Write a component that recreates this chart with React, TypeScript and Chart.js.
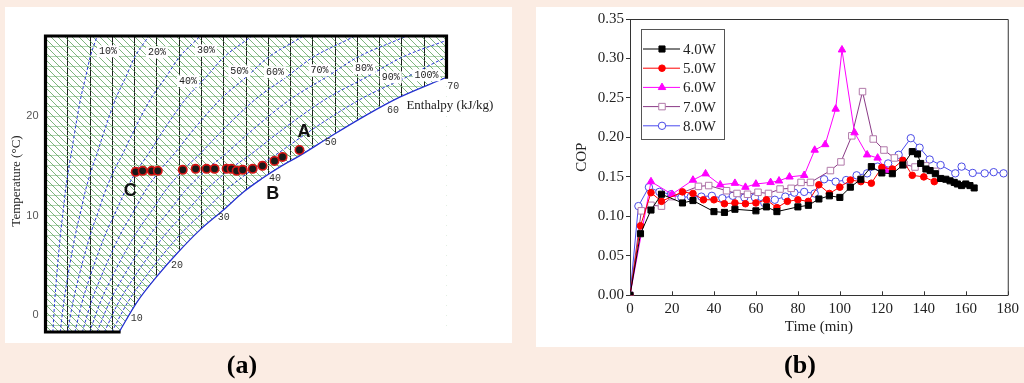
import React, { useEffect, useRef } from "react";
import { Chart, registerables } from "chart.js";
import { drawPoint } from "chart.js/helpers";

Chart.register(...registerables);

// ---------------- Panel (a): psychrometric chart ----------------
// saturation (100 % RH) curve: humidity ratio vs temperature
const satTemp = [-1.7, 1.3, 3.9, 6.2, 8.5, 10.6, 12.4, 13.7, 15.0, 16.0, 18.1, 20.1, 21.9, 23.9, 25.9, 27.6, 28.6];
const satHum = [3.3, 4.1, 5.0, 5.9, 6.9, 8.0, 8.9, 9.7, 10.6, 11.4, 12.9, 14.4, 15.9, 18.0, 20.0, 22.5, 24.0];
const rhLevels = [10, 20, 30, 40, 50, 60, 70, 80, 90];
// measured air states C -> B -> A
const processHum = [4.05, 4.36, 4.77, 5.04, 6.16, 6.74, 7.23, 7.59, 8.13, 8.35, 8.58, 8.85, 9.3, 9.74, 10.28, 10.64, 11.4];
const processTemp = [14.4, 14.5, 14.5, 14.5, 14.6, 14.7, 14.7, 14.7, 14.7, 14.7, 14.5, 14.6, 14.7, 15.0, 15.5, 15.9, 16.6];
const tempTicks = [0, 10, 20];
// text annotations
const rhLabels = ["10%", "20%", "30%", "40%", "50%", "60%", "70%", "80%", "90%", "100%"];
const rhLabelHum = [2.8, 5.0, 7.2, 6.4, 8.7, 10.3, 12.3, 14.3, 15.5, 17.1];
const rhLabelTemp = [26.5, 26.4, 26.6, 23.5, 24.5, 24.4, 24.6, 24.8, 23.9, 24.1];
const enthalpyLabels = ["10", "20", "30", "40", "50", "60", "70"];
const enthalpyLabelHum = [4.1, 5.9, 8.0, 10.3, 12.8, 15.6, 18.3];
const enthalpyLabelTemp = [-0.3, 5.0, 9.8, 13.7, 17.4, 20.6, 23.0];
const letterLabels = ["A", "B", "C"];
const letterHum = [11.6, 10.2, 3.8];
const letterTemp = [18.4, 12.2, 12.5];

// ---------------- Panel (b): COP vs time ----------------
const seriesNames = ["4.0W", "5.0W", "6.0W", "7.0W", "8.0W"];
const time40 = [0, 5, 10, 15, 25, 30, 40, 45, 50, 60, 65, 70, 80, 85, 90, 95, 100, 105, 110, 115, 120, 125, 130, 134.5, 137, 138.5, 141, 143, 145.5, 148, 150.5, 152.5, 154.5, 156, 158, 160, 162, 164];
const cop40 = [0, 0.078, 0.108, 0.128, 0.117, 0.12, 0.106, 0.105, 0.109, 0.107, 0.112, 0.106, 0.112, 0.114, 0.122, 0.126, 0.124, 0.137, 0.147, 0.163, 0.155, 0.154, 0.165, 0.182, 0.179, 0.167, 0.16, 0.158, 0.154, 0.148, 0.147, 0.145, 0.143, 0.141, 0.139, 0.141, 0.139, 0.136];
const time50 = [0, 5, 10, 15, 25, 30, 35, 40, 45, 50, 55, 60, 65, 70, 75, 80, 85, 90, 95, 100, 105, 110, 115, 120, 125, 130, 134.5, 140, 145];
const cop50 = [0, 0.088, 0.13, 0.119, 0.131, 0.129, 0.121, 0.121, 0.116, 0.117, 0.116, 0.117, 0.121, 0.111, 0.119, 0.121, 0.119, 0.14, 0.129, 0.137, 0.146, 0.144, 0.142, 0.162, 0.16, 0.171, 0.152, 0.15, 0.144];
const time60 = [0, 10, 20, 30, 36, 43, 50, 55, 60, 67, 71, 76, 83, 88, 93, 98, 101, 107, 113, 118, 122];
const cop60 = [0, 0.144, 0.128, 0.146, 0.154, 0.14, 0.142, 0.137, 0.141, 0.143, 0.145, 0.15, 0.152, 0.184, 0.191, 0.236, 0.311, 0.206, 0.178, 0.174, 0.158];
const time70 = [0, 5.4, 10, 15, 20, 32.6, 37.5, 46, 51, 56, 61, 66, 71.5, 76.8, 81.5, 86, 95.5, 100.5, 105.7, 110.8, 115.9, 121, 126, 130.6, 135.8, 140.9, 145.6];
const cop70 = [0, 0.107, 0.114, 0.113, 0.125, 0.138, 0.139, 0.1325, 0.129, 0.128, 0.1305, 0.129, 0.1346, 0.1355, 0.143, 0.143, 0.158, 0.169, 0.202, 0.258, 0.198, 0.184, 0.174, 0.166, 0.1625, 0.164, 0.157];
const time80 = [0, 4, 9, 14, 19.5, 24.5, 29, 34, 39, 44, 49, 54.5, 59.5, 64, 69, 74, 78.3, 83, 88, 92.5, 98, 103, 108, 113, 118, 123, 128, 133.8, 138, 142.8, 148, 155, 158, 163.3, 169, 173.3, 178];
const cop80 = [0, 0.113, 0.137, 0.131, 0.128, 0.124, 0.125, 0.125, 0.126, 0.123, 0.126, 0.124, 0.124, 0.117, 0.121, 0.125, 0.13, 0.131, 0.129, 0.147, 0.144, 0.146, 0.152, 0.1545, 0.163, 0.167, 0.178, 0.199, 0.187, 0.172, 0.165, 0.1545, 0.163, 0.155, 0.1545, 0.156, 0.1545];
const seriesTimes = [time40, time50, time60, time70, time80];
const seriesCops = [cop40, cop50, cop60, cop70, cop80];

// styles
const lineColors = ["#000000", "#ff0000", "#ff00ff", "#8a3a86", "#4b4bef"];
const markerBorder = ["#000000", "#ff0000", "#ff00ff", "#b27aaa", "#4a4ae6"];
const markerFill = ["#000000", "#ff0000", "#ff00ff", "#ffffff", "#ffffff"];
const markerStyle = ["rect", "circle", "triangle", "rect", "circle"];
const markerRadius = [4.3, 3.3, 4.3, 4.6, 3.7];

const SERIF = '"Liberation Serif", "Times New Roman", serif';
const SANS = '"Liberation Sans", Arial, sans-serif';
const MONO = '"Liberation Mono", "DejaVu Sans Mono", monospace';

function interpTempAt(w: number): number {
  for (let i = 1; i < satHum.length; i++) {
    if (satHum[i] >= w) {
      const f = (w - satHum[i - 1]) / (satHum[i] - satHum[i - 1]);
      return satTemp[i - 1] + f * (satTemp[i] - satTemp[i - 1]);
    }
  }
  return satTemp[satTemp.length - 1];
}

const psychroPlugin = {
  id: "psychro",
  beforeDatasetsDraw(chart: any) {
    const { ctx, chartArea: a } = chart;
    const s = 7;
    const tile = document.createElement("canvas");
    tile.width = s;
    tile.height = s;
    const t = tile.getContext("2d")!;
    t.strokeStyle = "rgba(70,150,70,0.7)";
    t.lineWidth = 1;
    t.beginPath();
    t.moveTo(0, 0);
    t.lineTo(s, s);
    t.moveTo(-1, s - 1);
    t.lineTo(1, s + 1);
    t.moveTo(s - 1, -1);
    t.lineTo(s + 1, 1);
    t.stroke();
    const pat = ctx.createPattern(tile, "repeat");
    ctx.save();
    ctx.fillStyle = pat;
    ctx.fillRect(a.left, a.top, a.width - 1, a.height);
    ctx.restore();
  },
  afterDatasetsDraw(chart: any) {
    const { ctx, chartArea: a, scales } = chart;
    const xs = scales.x;
    const ys = scales.y;
    ctx.save();
    // thick frame
    ctx.strokeStyle = "#000";
    ctx.lineWidth = 3.2;
    ctx.lineCap = "square";
    const yRight = ys.getPixelForValue(interpTempAt(xs.max));
    const xBottom = xs.getPixelForValue(satHum[0]);
    ctx.beginPath();
    ctx.moveTo(xBottom, a.bottom);
    ctx.lineTo(a.left, a.bottom);
    ctx.lineTo(a.left, a.top);
    ctx.lineTo(a.right, a.top);
    ctx.lineTo(a.right, yRight);
    ctx.stroke();

    // RH labels
    ctx.font = "10px " + MONO;
    ctx.textAlign = "center";
    ctx.textBaseline = "middle";
    rhLabels.forEach((txt, i) => {
      const x = xs.getPixelForValue(rhLabelHum[i]);
      const y = ys.getPixelForValue(rhLabelTemp[i]);
      const w = ctx.measureText(txt).width;
      ctx.fillStyle = "#ffffff";
      ctx.fillRect(x - w / 2 - 2, y - 6, w + 4, 12);
      ctx.fillStyle = "#222";
      ctx.fillText(txt, x, y);
    });
    // enthalpy values
    enthalpyLabels.forEach((txt, i) => {
      ctx.fillStyle = "#333";
      ctx.fillText(txt, xs.getPixelForValue(enthalpyLabelHum[i]), ys.getPixelForValue(enthalpyLabelTemp[i]));
    });
    ctx.font = "13px " + SERIF;
    ctx.textAlign = "left";
    ctx.fillStyle = "#222";
    ctx.fillText("Enthalpy (kJ/kg)", xs.getPixelForValue(16.2), ys.getPixelForValue(21.1));
    // state letters
    ctx.font = "bold 18px " + SANS;
    ctx.textAlign = "center";
    ctx.fillStyle = "#111";
    letterLabels.forEach((txt, i) => {
      ctx.fillText(txt, xs.getPixelForValue(letterHum[i]), ys.getPixelForValue(letterTemp[i]));
    });
    // y title
    ctx.translate(a.left - 28.5, 181);
    ctx.rotate(-Math.PI / 2);
    ctx.font = "13px " + SERIF;
    ctx.fillStyle = "#222";
    ctx.fillText("Temperature (\u00B0C)", 0, 0);
    ctx.restore();
  },
};

function PanelA() {
  const ref = useRef<HTMLCanvasElement>(null);
  useEffect(() => {
    const canvas = ref.current!;
    const satData = satHum.map((w, i) => ({ x: w, y: satTemp[i] }));
    const rhSets = rhLevels.map((rh) => ({
      label: rh + "%",
      data: satHum.map((w, i) => ({ x: (w * rh) / 100, y: satTemp[i] })),
      showLine: true,
      borderColor: "#2b3ad8",
      borderWidth: 1,
      borderDash: [3, 2],
      pointRadius: 0,
      fill: false,
      cubicInterpolationMode: "monotone",
    }));
    const chart = new Chart(canvas, {
      type: "scatter",
      data: {
        datasets: [
          {
            label: "points",
            data: processHum.map((w, i) => ({ x: w, y: processTemp[i] })),
            pointRadius: 4.2,
            pointBackgroundColor: "#1a1a1a",
            pointBorderColor: "#d41414",
            pointBorderWidth: 1.6,
            showLine: false,
          } as any,
          ...rhSets,
          {
            label: "100%",
            data: satData,
            showLine: true,
            borderColor: "#2430d0",
            borderWidth: 1.3,
            pointRadius: 0,
            fill: "start",
            backgroundColor: "#ffffff",
            cubicInterpolationMode: "monotone",
          },
        ],
      },
      options: {
        animation: false,
        responsive: false,
        maintainAspectRatio: false,
        layout: { padding: { left: 0, right: 65.5, top: 36, bottom: 51 } },
        plugins: { legend: { display: false }, tooltip: { enabled: false } },
        scales: {
          x: {
            type: "linear",
            min: 0,
            max: 18,
            ticks: { display: false, stepSize: 1 },
            grid: {
              color: (c: any) => (c.tick && (c.tick.value === 0 || c.tick.value === 18) ? "rgba(0,0,0,0)" : "#1e1e1e"),
              lineWidth: 1,
              drawTicks: false,
            },
            border: { display: false },
            afterFit: (s: any) => {
              s.height = 0;
            },
          },
          y: {
            type: "linear",
            min: -1.68,
            max: 28.04,
            afterFit: (s: any) => {
              s.width = 45.5;
            },
            ticks: {
              stepSize: 1,
              includeBounds: false,
              autoSkip: false,
              padding: 7,
              color: "#555",
              font: { family: SANS, size: 11 },
              callback: (v: any) => (tempTicks.includes(Number(v)) ? String(v) : ""),
            },
            grid: { color: "#afd4af", lineWidth: 1, drawTicks: false },
            border: { display: false },
          },
        },
      } as any,
      plugins: [psychroPlugin],
    });
    return () => chart.destroy();
  }, []);
  return <canvas ref={ref} width={512} height={383} style={{ position: "absolute", left: 0, top: 0, width: 512, height: 383 }} />;
}

const copPlugin = {
  id: "copDecor",
  afterDatasetsDraw(chart: any) {
    const { ctx, chartArea: a, scales } = chart;
    ctx.save();
    ctx.strokeStyle = "#333";
    ctx.lineWidth = 1;
    // frame top & right
    ctx.beginPath();
    ctx.moveTo(a.left, a.top + 0.5);
    ctx.lineTo(a.right + 0.5, a.top + 0.5);
    ctx.lineTo(a.right + 0.5, a.bottom);
    ctx.stroke();
    // inward x ticks
    scales.x.ticks.forEach((t: any) => {
      const x = Math.round(scales.x.getPixelForValue(t.value)) + 0.5;
      ctx.beginPath();
      ctx.moveTo(x, a.bottom);
      ctx.lineTo(x, a.bottom - 4);
      ctx.stroke();
    });
    // legend
    const lx = a.left + 11.5;
    const ly = a.top + 10.5;
    ctx.strokeStyle = "#555";
    ctx.strokeRect(lx, ly, 83, 110);
    ctx.font = "15px " + SERIF;
    ctx.textAlign = "left";
    ctx.textBaseline = "middle";
    seriesNames.forEach((name, i) => {
      const y = a.top + 30 + i * 19.2;
      ctx.strokeStyle = lineColors[i];
      ctx.lineWidth = 1;
      ctx.beginPath();
      ctx.moveTo(a.left + 13, y);
      ctx.lineTo(a.left + 50, y);
      ctx.stroke();
      ctx.fillStyle = markerFill[i];
      ctx.strokeStyle = markerBorder[i];
      drawPoint(ctx, { pointStyle: markerStyle[i] as any, radius: markerRadius[i], rotation: 0, borderWidth: 1 }, a.left + 32, y);
      ctx.fillStyle = "#222";
      ctx.fillText(name, a.left + 53, y + 1);
    });
    // axis titles
    ctx.fillStyle = "#222";
    ctx.textAlign = "center";
    ctx.font = "15px " + SERIF;
    ctx.fillText("Time (min)", (a.left + a.right) / 2, 327);
    ctx.translate(62.5, (a.top + a.bottom) / 2);
    ctx.rotate(-Math.PI / 2);
    ctx.fillText("COP", 0, 0);
    ctx.restore();
  },
};

function PanelB() {
  const ref = useRef<HTMLCanvasElement>(null);
  useEffect(() => {
    const canvas = ref.current!;
    const datasets = seriesNames.map((name, i) => ({
      label: name,
      data: seriesTimes[i].map((t, j) => ({ x: t, y: seriesCops[i][j] })),
      showLine: true,
      borderColor: lineColors[i],
      borderWidth: 1,
      pointStyle: markerStyle[i],
      pointRadius: markerRadius[i],
      pointBackgroundColor: markerFill[i],
      pointBorderColor: markerBorder[i],
      pointBorderWidth: 1,
      fill: false,
    }));
    const chart = new Chart(canvas, {
      type: "scatter",
      data: { datasets: datasets as any },
      options: {
        animation: false,
        responsive: false,
        maintainAspectRatio: false,
        layout: { padding: { left: 0, right: 15, top: 19, bottom: 62.7 } },
        plugins: { legend: { display: false }, tooltip: { enabled: false } },
        scales: {
          x: {
            type: "linear",
            min: 0,
            max: 180,
            ticks: { stepSize: 20, color: "#222", font: { family: SERIF, size: 15 }, padding: 5, maxRotation: 0, autoSkip: false },
            grid: { drawOnChartArea: false, drawTicks: false },
            border: { color: "#333", width: 1 },
            afterFit: (s: any) => {
              s.height = 25;
            },
          },
          y: {
            type: "linear",
            min: 0,
            max: 0.35,
            ticks: {
              stepSize: 0.05,
              color: "#222",
              font: { family: SERIF, size: 15 },
              padding: 2,
              callback: (v: any) => Number(v).toFixed(2),
            },
            grid: { drawOnChartArea: false, drawTicks: true, tickLength: 4, color: "#333" },
            border: { color: "#333", width: 1 },
            afterFit: (s: any) => {
              s.width = 110;
            },
          },
        },
      } as any,
      plugins: [copPlugin],
    });
    return () => chart.destroy();
  }, []);
  return <canvas ref={ref} width={504} height={383} style={{ position: "absolute", left: 520, top: 0, width: 504, height: 383 }} />;
}

export default function App() {
  const labelStyle: React.CSSProperties = {
    position: "absolute",
    width: 100,
    textAlign: "center",
    top: 350,
    fontFamily: SERIF,
    fontWeight: "bold",
    fontSize: 26,
    lineHeight: "30px",
    color: "#000",
  };
  return (
    <div style={{ position: "absolute", left: 0, top: 0, width: 1024, height: 383, overflow: "hidden", background: "#fbece3" }}>
      <div style={{ position: "absolute", left: 5, top: 7, width: 507, height: 336, background: "#ffffff" }} />
      <div style={{ position: "absolute", left: 536, top: 7, width: 488, height: 340, background: "#ffffff" }} />
      <PanelA />
      <PanelB />
      <div style={{ ...labelStyle, left: 192 }}>(a)</div>
      <div style={{ ...labelStyle, left: 750 }}>(b)</div>
    </div>
  );
}
